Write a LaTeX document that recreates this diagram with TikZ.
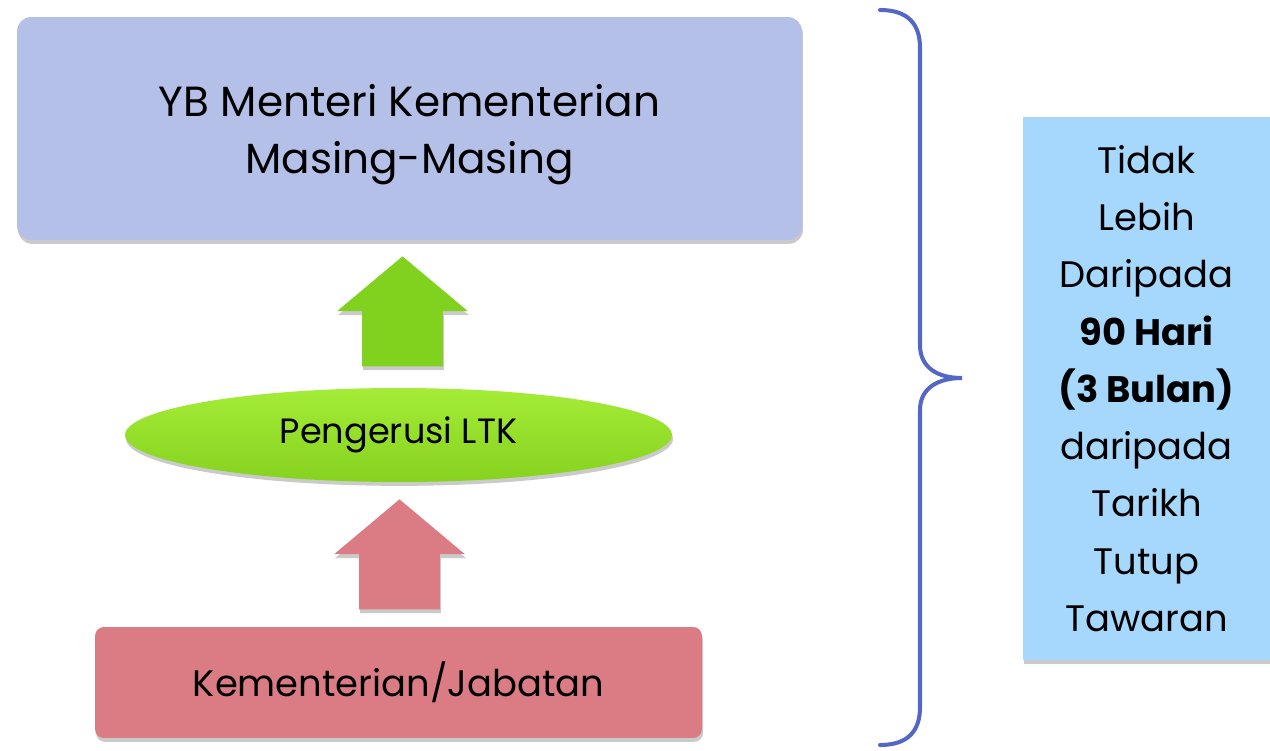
\documentclass[tikz,border=0pt]{standalone}
\usepackage{fontspec}
\setmainfont{Poppins}
\usetikzlibrary{positioning,calc,shapes.geometric,shapes.arrows,shadows}

\definecolor{menteriblue}{HTML}{B5C0E8}
\definecolor{ltkgreen}{HTML}{A4EC38}
\definecolor{ltkdark}{HTML}{86D21E}
\definecolor{arrowgreen}{HTML}{80D21E}
\definecolor{jabatanpink}{HTML}{DB7C84}
\definecolor{tempohblue}{HTML}{A6D7FC}
\definecolor{braceblue}{HTML}{5567C6}

\tikzset{
  softshadow/.style={drop shadow={shadow xshift=0.6pt,shadow yshift=-2.2pt,opacity=0.35,fill=black!60}},
  menteri/.style={rectangle,rounded corners=8pt,fill=menteriblue,softshadow,
    minimum width=15.7cm,minimum height=4.46cm,align=center,
    font=\fontsize{24}{32.5}\selectfont},
  ltk/.style={ellipse,top color=ltkgreen,bottom color=ltkdark,softshadow,
    minimum width=10.94cm,minimum height=1.88cm,inner sep=0pt,
    font=\fontsize{20}{22}\selectfont},
  jabatan/.style={rectangle,rounded corners=5pt,fill=jabatanpink,softshadow,
    minimum width=12.14cm,minimum height=2.22cm,
    font=\fontsize{21}{24}\selectfont},
  uparrow/.style={single arrow,shape border rotate=90,softshadow,
    inner xsep=0.8cm,inner ysep=0pt,anchor=tail,
    minimum height=2.2cm,
    single arrow head extend=0.5cm,single arrow tip angle=100},
  tempoh/.style={rectangle,fill=tempohblue,softshadow,
    minimum width=4.94cm,minimum height=10.86cm,align=center,
    font=\fontsize{21}{32.6}\selectfont},
  bracket/.style={draw=braceblue,line width=2.3pt,line cap=round}
}

\begin{document}
\begin{tikzpicture}[x=0.02cm,y=-0.02cm]
  \useasboundingbox (0,0) rectangle (1270,750);

  \node[menteri] (yb) at (409.5,128.5) {\rule{0pt}{25pt}YB Menteri Kementerian\\Masing-Masing};
  \node[ltk] (ltk) at (398.5,435) {Pengerusi LTK};
  \node[jabatan] (kj) at (398.5,682.5) {Kementerian/Jabatan};

  % block arrows between the levels
  \node[uparrow,fill=arrowgreen] (upltk) at ($(ltk.north)+(4,-21)$) {};
  \node[uparrow,fill=jabatanpink] (upkj) at ($(kj.north)+(1,-17)$) {};

  \node[tempoh] (tempoh) at (1146.5,388.5)
    {Tidak\\Lebih\\Daripada\\\textbf{90 Hari}\\\textbf{(3 Bulan)}\\daripada\\Tarikh\\Tutup\\Tawaran};

  % curly brace
  \coordinate (b0) at (880,10);
  \coordinate (b1) at (920,48);
  \coordinate (b2) at (920,345);
  \coordinate (tip) at (962,378);
  \coordinate (b3) at (920,410);
  \coordinate (b4) at (920,707);
  \coordinate (b5) at (880,745);
  \draw[bracket] (b0) .. controls (908,10) and (920,24) .. (b1) -- (b2)
    .. controls (920,368) and (938,378) .. (tip)
    .. controls (938,378) and (920,388) .. (b3) -- (b4)
    .. controls (920,731) and (908,745) .. (b5);
\end{tikzpicture}
\end{document}
